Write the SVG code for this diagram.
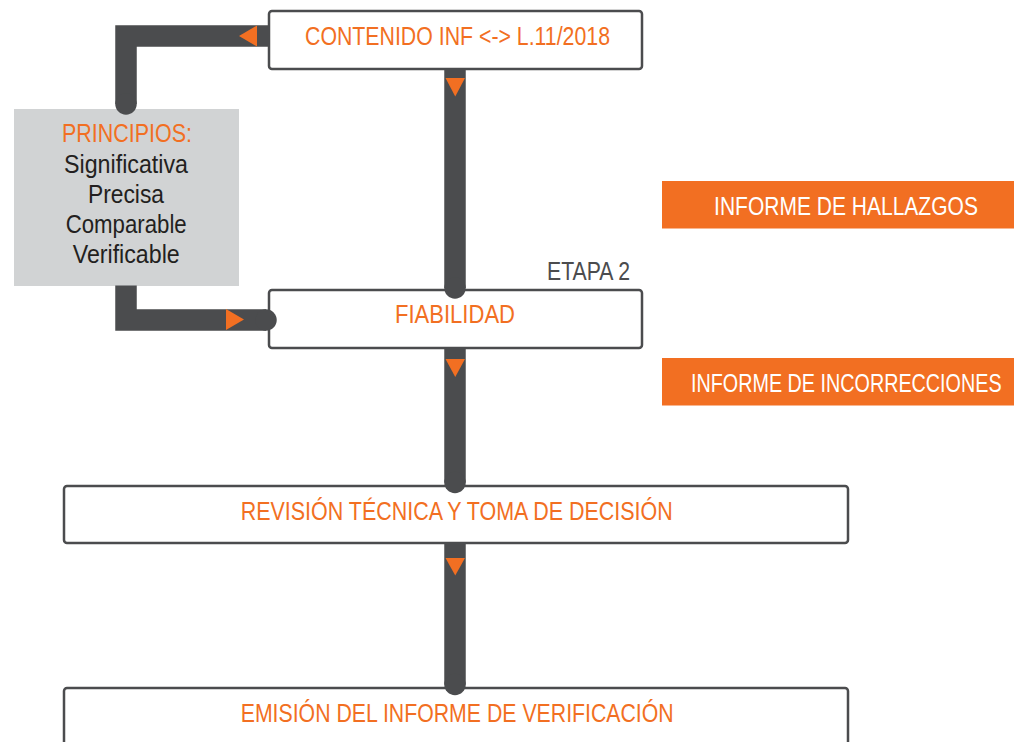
<svg xmlns="http://www.w3.org/2000/svg" width="1014" height="742" viewBox="0 0 1014 742">
<style>
.box{fill:#ffffff;stroke:#4b4c4e;stroke-width:2.5}
.gray{fill:#d1d3d4}
.orangebox{fill:#f26f22}
.t{font-family:"Liberation Sans",Arial,sans-serif;font-size:25px}
.or{fill:#f26f22}
.wh{fill:#ffffff}
.dk{fill:#231f20}
.gr{fill:#4b4c4e}
.bar{fill:none;stroke:#4b4c4e;stroke-width:21.5;stroke-linejoin:miter;stroke-linecap:butt}
.cap{fill:#4b4c4e}
.arr{fill:#f26f22}
</style>
<rect width="1014" height="742" fill="#ffffff"/>

<g id="node-contenido">
<rect class="box" x="269" y="11" width="373" height="58" rx="3"/>
<text class="t or" x="305" y="45" textLength="305" lengthAdjust="spacingAndGlyphs">CONTENIDO INF &lt;-&gt; L.11/2018</text>
</g>

<g id="node-principios">
<rect class="gray" x="14" y="109" width="225" height="177"/>
<text class="t or" x="62" y="142" textLength="130" lengthAdjust="spacingAndGlyphs">PRINCIPIOS:</text>
<text class="t dk" x="64" y="173" textLength="124" lengthAdjust="spacingAndGlyphs">Significativa</text>
<text class="t dk" x="88" y="203" textLength="76" lengthAdjust="spacingAndGlyphs">Precisa</text>
<text class="t dk" x="65.7" y="233" textLength="121" lengthAdjust="spacingAndGlyphs">Comparable</text>
<text class="t dk" x="72.7" y="263" textLength="107" lengthAdjust="spacingAndGlyphs">Verificable</text>
</g>

<g id="node-hallazgos">
<rect class="orangebox" x="662" y="181" width="352" height="47.5"/>
<text class="t wh" transform="translate(846,215) scale(0.841,1)" x="0" y="0" text-anchor="middle">INFORME DE HALLAZGOS</text>
</g>

<g id="node-fiabilidad">
<text class="t gr" x="547" y="280" textLength="83" lengthAdjust="spacingAndGlyphs">ETAPA 2</text>
<rect class="box" x="269" y="290" width="373" height="58" rx="3"/>
<text class="t or" x="395" y="323" textLength="120" lengthAdjust="spacingAndGlyphs">FIABILIDAD</text>
</g>

<g id="node-incorrecciones">
<rect class="orangebox" x="662" y="358" width="352" height="47.5"/>
<text class="t wh" transform="translate(846.3,392) scale(0.791,1)" x="0" y="0" text-anchor="middle">INFORME DE INCORRECCIONES</text>
</g>

<g id="node-revision">
<rect class="box" x="64" y="486" width="784" height="57" rx="3"/>
<text class="t or" x="240.7" y="520" textLength="432" lengthAdjust="spacingAndGlyphs">REVISIÓN TÉCNICA Y TOMA DE DECISIÓN</text>
</g>

<g id="node-emision">
<rect class="box" x="64" y="688" width="784" height="80" rx="3"/>
<text class="t or" x="240.7" y="722" textLength="433" lengthAdjust="spacingAndGlyphs">EMISIÓN DEL INFORME DE VERIFICACIÓN</text>
</g>

<g id="connectors">
<!-- contenido -> principios -->
<path class="bar" d="M268 36 H126 V104"/>
<circle class="cap" cx="126" cy="104" r="10.75"/>
<polygon class="arr" points="239,36 257,25.5 257,46.5"/>
<!-- principios -> fiabilidad -->
<path class="bar" d="M126 285.5 V320 H266"/>
<circle class="cap" cx="266" cy="320" r="10.75"/>
<polygon class="arr" points="226,309 244,319.5 226,330"/>
<!-- contenido -> fiabilidad -->
<path class="bar" d="M455 70 V288"/>
<circle class="cap" cx="455" cy="288" r="10.75"/>
<polygon class="arr" points="445.5,78 465,78 455.25,96.5"/>
<!-- fiabilidad -> revision -->
<path class="bar" d="M455 349 V482.5"/>
<circle class="cap" cx="455" cy="482.5" r="10.75"/>
<polygon class="arr" points="445.5,359 465,359 455.25,377"/>
<!-- revision -> emision -->
<path class="bar" d="M455 544 V684.5"/>
<circle class="cap" cx="455" cy="684.5" r="10.75"/>
<polygon class="arr" points="445.5,558 465,558 455.25,575.5"/>
</g>
</svg>
